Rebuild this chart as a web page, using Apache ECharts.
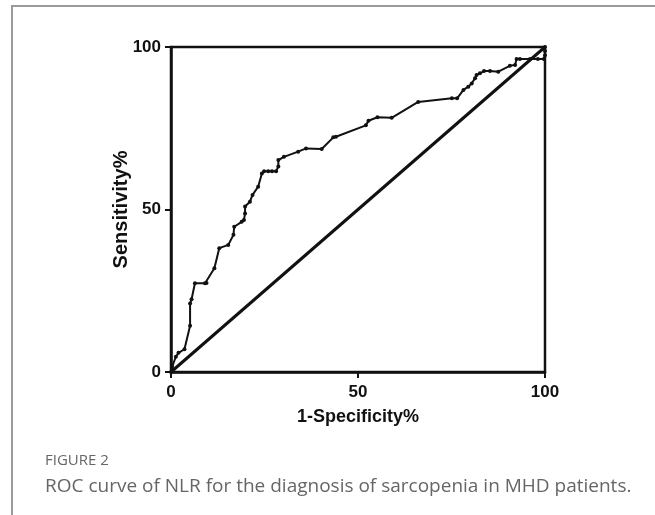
<!DOCTYPE html>
<html>
<head>
<meta charset="utf-8">
<script src="https://cdn.jsdelivr.net/npm/echarts@6/dist/echarts.min.js"></script>
<style>
html, body { margin: 0; padding: 0; background: #fff; }
#chart { width: 655px; height: 515px; }
</style>
</head>
<body>
<div id="chart"></div>
<script>
// ROC curve points (1-specificity %, sensitivity %)
var fpr = [0, 0.3, 1.3, 2.0, 3.6, 5.1, 5.1, 5.5, 6.4, 9.1, 9.5, 11.6, 12.9, 15.3, 16.7, 16.9, 18.9, 19.5, 19.8, 19.8,
	21.1, 21.8, 23.3, 24.3, 24.9, 26.0, 27.0, 28.1, 28.7, 28.7, 30.2, 34.0, 36.1, 40.3, 43.4, 44.1, 52.1, 52.8, 55.2, 59.0,
	66.1, 75.1, 76.5, 78.2, 79.5, 80.4, 81.3, 81.7, 82.6, 83.7, 85.3, 87.5, 90.6, 92.0, 92.4, 93.3, 96.0, 98.1, 99.7, 100, 100, 100];
var tpr = [0, 1.6, 4.7, 5.9, 7.0, 14.2, 21.1, 22.4, 27.3, 27.3, 27.4, 31.9, 38.1, 39.1, 42.2, 44.7, 46.2, 46.8, 48.8, 50.9,
	52.4, 54.5, 57.0, 61.1, 61.8, 61.8, 61.8, 61.8, 63.2, 65.2, 66.2, 67.8, 68.8, 68.6, 72.2, 72.4, 75.9, 77.3, 78.4, 78.2,
	83.1, 84.2, 84.2, 86.8, 87.8, 88.8, 90.4, 91.4, 91.9, 92.6, 92.6, 92.4, 94.2, 94.5, 96.3, 96.3, 96.3, 96.3, 96.3, 97.5, 98.8, 100];
var refLine = [[0, 0], [100, 100]];

var pairs = function(xs, ys) {
	var rtn = [];
	xs.forEach(function(x, i) {
		rtn.push([x, ys[i]]);
	});
	return rtn;
};

var boldFont = function(size) {
	return {
		fontFamily: 'Liberation Sans, Arial, sans-serif',
		fontWeight: 'bold',
		fontSize: size,
		color: '#111'
	};
};

var extend = function(a, b) {
	for (var p in b) a[p] = b[p];
	return a;
};

var chart = echarts.init(document.getElementById('chart'));

var option = {
	animation: false,
	grid: {
		left: 171,
		right: 110,
		top: 47,
		bottom: 143,
		show: true,
		borderColor: '#111',
		borderWidth: 2.5
	},
	xAxis: {
		type: 'value',
		min: 0,
		max: 100,
		interval: 50,
		splitLine: { show: false },
		axisLine: { lineStyle: { color: '#111', width: 2.5 } },
		axisTick: { length: 6, lineStyle: { color: '#111', width: 2 } },
		axisLabel: extend({ margin: 12 }, boldFont(17)),
		name: '1-Specificity%',
		nameLocation: 'middle',
		nameGap: 36,
		nameMoveOverlap: false,
		nameTextStyle: boldFont(18)
	},
	yAxis: {
		type: 'value',
		min: 0,
		max: 100,
		interval: 50,
		splitLine: { show: false },
		axisLine: { lineStyle: { color: '#111', width: 2.5 } },
		axisTick: { length: 6, lineStyle: { color: '#111', width: 2 } },
		axisLabel: extend({ margin: 10 }, boldFont(17)),
		name: 'Sensitivity%',
		nameLocation: 'middle',
		nameGap: 40,
		nameMoveOverlap: false,
		nameTextStyle: boldFont(20)
	},
	graphic: [
		{
			type: 'polyline',
			shape: { points: [[12, 520], [12, 6], [660, 6]] },
			style: { stroke: '#9a9a9a', lineWidth: 2, fill: null }
		},
		{
			type: 'text',
			left: 45,
			top: 453,
			style: { text: 'FIGURE 2', fill: '#666', font: '15px "Open Sans", "Noto Sans", sans-serif' }
		},
		{
			type: 'text',
			left: 45,
			top: 477,
			style: { text: 'ROC curve of NLR for the diagnosis of sarcopenia in MHD patients.', fill: '#666', font: '19px "Open Sans", "Noto Sans", sans-serif' }
		}
	],
	series: [
		{
			type: 'line',
			data: refLine,
			symbol: 'none',
			lineStyle: { color: '#111', width: 3 },
			z: 2
		},
		{
			type: 'line',
			data: pairs(fpr, tpr),
			symbol: 'circle',
			symbolSize: 4,
			itemStyle: { color: '#111' },
			lineStyle: { color: '#111', width: 2 },
			z: 3
		}
	]
};

chart.setOption(option, true);
</script>
</body>
</html>
